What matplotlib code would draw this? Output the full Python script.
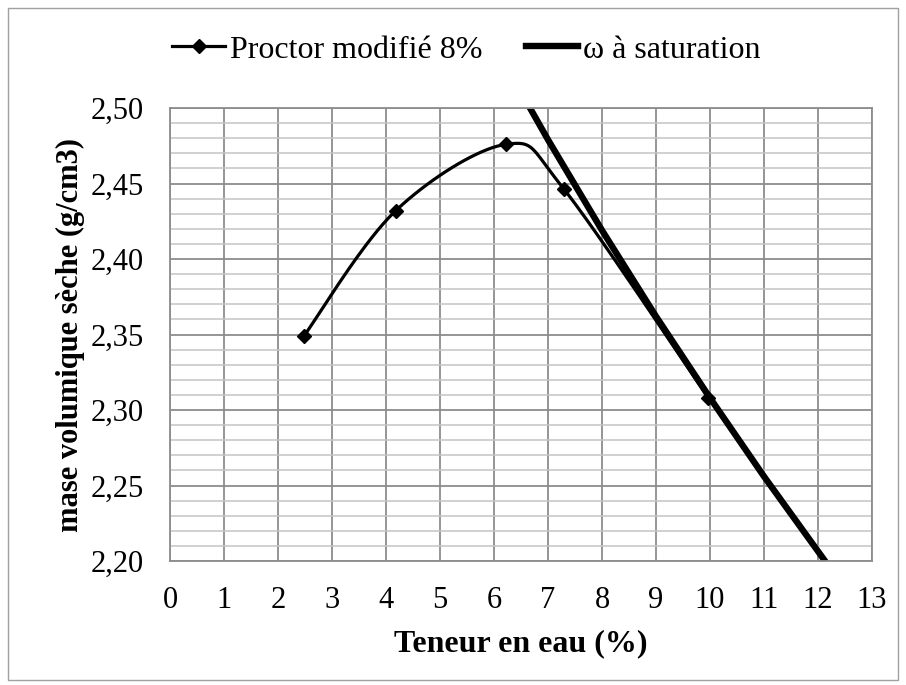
import numpy as np
import matplotlib
matplotlib.use("Agg")
import matplotlib.pyplot as plt
from matplotlib.ticker import MultipleLocator, FixedLocator
from matplotlib.lines import Line2D
from matplotlib.patches import Rectangle

# Data
proctor_w = [2.48, 4.18, 6.23, 7.29, 9.97]
proctor_rho = [2.349, 2.432, 2.476, 2.4465, 2.308]

sat_w = [6.0, 7.0, 8.0, 9.0, 10.0, 11.0, 12.15]
sat_rho = [2.542, 2.479, 2.419, 2.362, 2.308, 2.256, 2.199]

x_ticks = list(range(0, 14))
y_ticks = [2.20, 2.25, 2.30, 2.35, 2.40, 2.45, 2.50]
y_tick_labels = ["2,20", "2,25", "2,30", "2,35", "2,40", "2,45", "2,50"]

label_proctor = "Proctor modifié 8%"
label_sat = "ω à saturation"
x_label = "Teneur en eau (%)"
y_label = "mase volumique sèche (g/cm3)"


def smooth(xs, ys, n=40, tension=0.5):
    """Excel-like smoothed line (cardinal Bezier spline through the points)."""
    xs = np.asarray(xs, float); ys = np.asarray(ys, float)
    px = np.concatenate([[xs[0]], xs, [xs[-1]]])
    py = np.concatenate([[ys[0]], ys, [ys[-1]]])
    outx, outy = [], []
    for i in range(1, len(px) - 2):
        p0 = np.array([px[i - 1], py[i - 1]]); p1 = np.array([px[i], py[i]])
        p2 = np.array([px[i + 1], py[i + 1]]); p3 = np.array([px[i + 2], py[i + 2]])
        c1 = p1 + (p2 - p0) * tension / 3.0
        c2 = p2 - (p3 - p1) * tension / 3.0
        t = np.linspace(0, 1, n)[:, None]
        pts = ((1 - t) ** 3) * p1 + 3 * ((1 - t) ** 2) * t * c1 + 3 * (1 - t) * t ** 2 * c2 + t ** 3 * p2
        outx.extend(pts[:, 0]); outy.extend(pts[:, 1])
    return np.array(outx), np.array(outy)


plt.rcParams['font.family'] = ['Liberation Serif', 'DejaVu Serif']

W, H = 906, 685
fig = plt.figure(figsize=(W / 100, H / 100), dpi=100)
ax = fig.add_axes([170 / W, 1 - 561 / H, 702 / W, 453 / H])

# frame around the whole figure
fig.patches.append(Rectangle((8 / W, 5 / H), 890 / W, 672 / H, transform=fig.transFigure,
                             fill=False, edgecolor='#a0a0a0', linewidth=1.0))

ax.set_xlim(0, 13)
ax.set_ylim(2.20, 2.50)
ax.xaxis.set_major_locator(FixedLocator(x_ticks))
ax.yaxis.set_major_locator(FixedLocator(y_ticks))
ax.yaxis.set_minor_locator(MultipleLocator(0.01))
ax.set_yticklabels(y_tick_labels)
ax.set_xticklabels([str(v) for v in x_ticks])

ax.grid(which='major', axis='both', color='#8c8c8c', linewidth=1.3)
ax.grid(which='minor', axis='y', color='#c4c4c4', linewidth=1.1)
ax.set_axisbelow(True)
for s in ax.spines.values():
    s.set_color('#8c8c8c')
    s.set_linewidth(1.3)
ax.tick_params(which='both', length=0)
ax.tick_params(axis='y', pad=19, labelsize=22)
ax.tick_params(axis='x', pad=18, labelsize=22)

# Saturation line
ax.plot(sat_w, sat_rho, color='black', linewidth=4.6, solid_capstyle='butt')

# Proctor curve
sx, sy = smooth(proctor_w, proctor_rho)
ax.plot(sx, sy, color='black', linewidth=2.3)
ax.plot(proctor_w, proctor_rho, linestyle='none', marker='D', markersize=7.5, color='black')

ax.set_xlabel(x_label, fontsize=23, fontweight='bold', labelpad=10)
ax.set_ylabel(y_label, fontsize=22, fontweight='bold', labelpad=4)

handles = [Line2D([], [], color='black', linewidth=2.3, marker='D', markersize=7.5),
           Line2D([], [], color='black', linewidth=4.6)]
fig.legend(handles, [label_proctor, label_sat], loc='center', bbox_to_anchor=(466.5 / W, 1 - 50 / H),
           ncol=2, frameon=False, fontsize=23, handlelength=1.65, handletextpad=0.15,
           columnspacing=1.35, borderpad=0, borderaxespad=0)

fig.savefig('out.png', dpi=100)
